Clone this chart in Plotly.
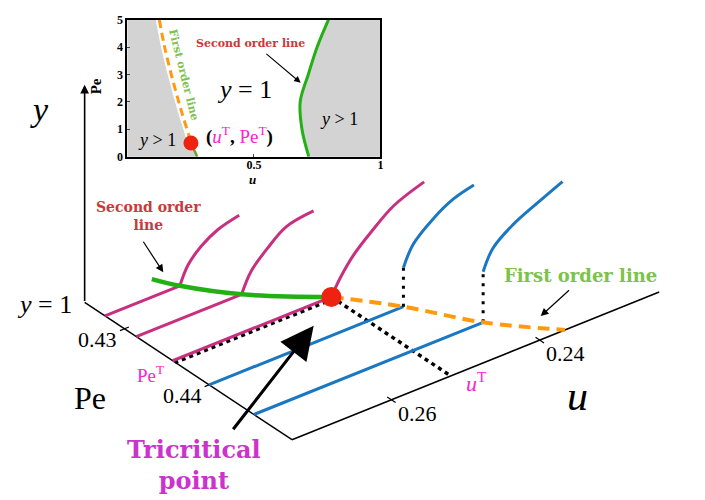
import numpy as np
import plotly.graph_objects as go

# ---- main schematic (Pe, u, y) ----
pe_lo, pe_hi = 0.4253, 0.4498
u_hi, u_lo = 0.2734, 0.2239
pe_ticks = [0.43, 0.44]
pe_tick_text = ["0.43", "0.44"]
u_ticks = [0.26, 0.24]
u_tick_text = ["0.26", "0.24"]
pe_T = 0.4357
u_T = 0.2520

# second order cuts (magenta)
so_pe = [0.4277, 0.4314, 0.4357]
so_uc = [0.2633, 0.2592, 0.2520]
so_curve_u = [[0.2633, 0.2622, 0.2604, 0.2582, 0.2553],
              [0.2592, 0.2579, 0.2558, 0.2532, 0.2495],
              [0.2520, 0.2508, 0.2490, 0.2467, 0.2436, 0.2395]]
so_curve_y = [[1.00, 1.09, 1.16, 1.21, 1.24],
              [1.00, 1.10, 1.18, 1.255, 1.28],
              [1.00, 1.08, 1.17, 1.25, 1.34, 1.40]]

# first order cuts (blue)
fo_pe = [0.4400, 0.4453]
fo_uc = [0.2472, 0.2425]
fo_jump = [1.20, 1.26]
fo_curve_u = [[0.2472, 0.2459, 0.2432, 0.2405, 0.2377],
              [0.2425, 0.2412, 0.2385, 0.2353, 0.2318]]
fo_curve_y = [[1.20, 1.30, 1.39, 1.45, 1.48],
              [1.26, 1.36, 1.44, 1.50, 1.56]]

# transition lines in the y=1 plane
sol_pe = [0.4257, 0.4277, 0.4314, 0.4357]
sol_u = [0.2648, 0.2633, 0.2592, 0.2520]
fol_pe = [0.4357, 0.4400, 0.4453, 0.4498]
fol_u = [0.2520, 0.2472, 0.2425, 0.2366]

# ---- inset phase diagram ----
in_fo_u = [0.126, 0.146, 0.177, 0.213, 0.244, 0.251]
in_fo_pe = [5.0, 4.04, 2.87, 1.67, 0.74, 0.50]
in_tail_u = [0.251, 0.276]
in_tail_pe = [0.50, 0.0]
in_so_u = [0.795, 0.750, 0.715, 0.683, 0.690, 0.717]
in_so_pe = [5, 4, 3, 2, 1, 0]
in_tc_u, in_tc_pe = 0.251, 0.50

MAGENTA = "#c8307f"
BLUE = "#1a78c2"
GREEN = "#22b014"
ORANGE = "#ff9a10"
RED = "#ee2211"
MATH = "Liberation Serif"
BOLD = "DejaVu Serif"

# oblique projection to page pixels
X0, Y0 = 85, 304
SPE_X, SPE_Y = 8500, 5763
SU_X, SU_Y = 7450, 3069
SY = 200


def proj(pe, u, y=1.0):
    pe = np.asarray(pe, float)
    u = np.asarray(u, float)
    y = np.asarray(y, float)
    px = X0 + (pe - pe_lo) * SPE_X + (u_hi - u) * SU_X
    py = Y0 + (pe - pe_lo) * SPE_Y - (u_hi - u) * SU_Y - (y - 1.0) * SY
    return px, py


fig = go.Figure()


def line(pe, u, y, color, width, dash="solid", shape="linear"):
    px, py = proj(pe, u, y)
    fig.add_trace(go.Scatter(x=px, y=py, mode="lines", showlegend=False,
                             line=dict(color=color, width=width, dash=dash, shape=shape),
                             hoverinfo="skip"))


# axes
line([pe_lo, pe_hi], [u_hi, u_hi], [1, 1], "black", 1.5)
line([pe_hi, pe_hi], [u_hi, u_lo], [1, 1], "black", 1.5)
for p in pe_ticks:
    line([p, p], [u_hi + 0.0006, u_hi - 0.0006], [1, 1], "black", 1.2)
for q in u_ticks:
    line([pe_hi - 0.0005, pe_hi + 0.0005], [q, q], [1, 1], "black", 1.2)

# dotted guides from tricritical point
line([pe_T + 0.0003, pe_T + 0.0003], [u_T, u_hi], [1, 1], "black", 3.5, dash="4px,4px")
line([pe_T, pe_hi], [u_T, u_T], [1, 1], "black", 3.5, dash="4px,4px")

# magenta cuts
for p, uc, cu, cy in zip(so_pe, so_uc, so_curve_u, so_curve_y):
    line([p, p], [u_hi, uc], [1, 1], MAGENTA, 3)
    line([p] * len(cu), cu, cy, MAGENTA, 3, shape="spline")

# blue cuts
for p, uc, jy, cu, cy in zip(fo_pe, fo_uc, fo_jump, fo_curve_u, fo_curve_y):
    line([p, p], [u_hi, uc], [1, 1], BLUE, 3)
    line([p, p], [uc, uc], [1, jy], "black", 3, dash="3px,6px")
    line([p] * len(cu), cu, cy, BLUE, 3, shape="spline")

# transition lines
line(sol_pe, sol_u, [1] * len(sol_pe), GREEN, 4.5, shape="spline")
line(fol_pe, fol_u, [1] * len(fol_pe), ORANGE, 4, dash="12px,7px", shape="spline")

tx, ty = proj(pe_T, u_T)
fig.add_trace(go.Scatter(x=[float(tx)], y=[float(ty)], mode="markers", showlegend=False,
                         marker=dict(color=RED, size=20), hoverinfo="skip"))

# inset traces
left_x = [-0.2, -0.2, in_fo_u[0]] + in_fo_u + in_tail_u[1:] + [in_tail_u[-1]]
left_y = [-1, 6, 6] + in_fo_pe + in_tail_pe[1:] + [-1]
fig.add_trace(go.Scatter(x=left_x, y=left_y, fill="toself", fillcolor="#d3d3d3",
                         line=dict(width=0), mode="lines",
                         xaxis="x2", yaxis="y2", showlegend=False, hoverinfo="skip"))
right_x = [1.2, 1.2, in_so_u[0]] + in_so_u + [in_so_u[-1]]
right_y = [-1, 6, 6] + in_so_pe + [-1]
fig.add_trace(go.Scatter(x=right_x, y=right_y, fill="toself", fillcolor="#d3d3d3",
                         line=dict(width=0, shape="spline"), mode="lines",
                         xaxis="x2", yaxis="y2", showlegend=False, hoverinfo="skip"))
fig.add_trace(go.Scatter(x=in_fo_u, y=in_fo_pe, mode="lines", line=dict(color="white", width=7, shape="spline"),
                         xaxis="x2", yaxis="y2", showlegend=False, hoverinfo="skip"))
fig.add_trace(go.Scatter(x=in_fo_u, y=in_fo_pe, mode="lines",
                         line=dict(color=ORANGE, width=3, dash="8px,5px", shape="spline"),
                         xaxis="x2", yaxis="y2", showlegend=False, hoverinfo="skip"))
fig.add_trace(go.Scatter(x=in_tail_u, y=in_tail_pe, mode="lines", line=dict(color="#6aa22a", width=2.5),
                         xaxis="x2", yaxis="y2", showlegend=False, hoverinfo="skip"))
fig.add_trace(go.Scatter(x=in_so_u, y=in_so_pe, mode="lines", line=dict(color=GREEN, width=3, shape="spline"),
                         xaxis="x2", yaxis="y2", showlegend=False, hoverinfo="skip"))
fig.add_trace(go.Scatter(x=[in_tc_u], y=[in_tc_pe], mode="markers", marker=dict(color=RED, size=15),
                         xaxis="x2", yaxis="y2", showlegend=False, hoverinfo="skip"))

ann = []


def text(x, y, s, size, color="black", family=MATH, ref="", **kw):
    ann.append(dict(x=x, y=y, text=s, showarrow=False, xref="x" + ref, yref="y" + ref,
                    font=dict(size=size, color=color, family=family), **kw))


def arrow(x, y, ax, ay, width=1.2, size=1.0, head=2):
    ann.append(dict(x=x, y=y, ax=ax, ay=ay, xref="x", yref="y", axref="x", ayref="y",
                    text="", showarrow=True, arrowhead=head, arrowsize=size,
                    arrowwidth=width, arrowcolor="black"))


# tick labels on the oblique axes
for p, s in zip(pe_ticks, pe_tick_text):
    px, py = proj(p, u_hi)
    text(float(px) - 27, float(py) + 11, s, 22)
px, py = proj(pe_T, u_hi)
text(float(px) - 22, float(py) + 14, "Pe<sup>T</sup>", 19, "#ff22cc")
for q, s in zip(u_ticks, u_tick_text):
    px, py = proj(pe_hi, q)
    text(float(px) + 26, float(py) + 14, s, 22)
px, py = proj(pe_hi, u_T)
text(float(px) + 26, float(py) + 6, "<i>u</i><sup>T</sup>", 22, "#ff22cc")

text(40, 105, "<i>y</i>", 34)
text(45, 306, "<i>y</i> = 1", 26)
text(90, 402, "Pe", 32)
text(580, 400, "<i>u</i>", 42)

# vertical axis with arrow
vx, vy = proj(pe_lo, u_hi, 1.0)
arrow(float(vx), 80, float(vx), float(vy), width=1.6, size=1.1)

text(149, 215, "<b>Second order<br>line</b>", 14, "#c83a3a", BOLD)
arrow(164, 273, 143, 240, width=1.2, size=1.3)
text(583, 276, "<b>First order line</b>", 18, "#7dc24a", BOLD)
arrow(543, 318, 573, 290, width=1.2, size=1.3)
text(195, 471, "<b>Tricritical<br>point</b>", 24, "#cc33cc", BOLD)
arrow(315, 328, 233, 436, width=3, size=2.2)

# inset annotations (page pixels)
text(252, 38, "<b>Second order line</b>", 11, "#d03535", BOLD)
arrow(302, 78, 266, 47, width=1.1, size=1.2)
text(185, 70, "<b>First order line</b>", 11, "#7dc24a", BOLD, textangle=76)
text(246, 85, "<i>y</i> = 1", 26)
text(158, 137, "<i>y</i> > 1", 18)
text(340, 115, "<i>y</i> > 1", 18)
text(241, 132, "<b>(</b><span style='color:#ff22cc'><i>u</i><sup>T</sup></span><b>, </b>"
     "<span style='color:#ff22cc'>Pe<sup>T</sup></span><b>)</b>", 19)
text(96, 82, "<b>Pe</b>", 15, textangle=-90)
text(254, 177, "<b><i>u</i></b>", 13)

fig.update_layout(
    width=705, height=500, margin=dict(l=0, r=0, t=0, b=0),
    paper_bgcolor="white", plot_bgcolor="white",
    xaxis=dict(range=[0, 705], visible=False, domain=[0, 1]),
    yaxis=dict(range=[500, 0], visible=False, domain=[0, 1]),
    xaxis2=dict(domain=[128 / 705, 382 / 705], anchor="y2", range=[0, 1],
                tickvals=[0.5, 1], ticktext=["<b>0.5</b>", "<b>1</b>"],
                ticks="inside", ticklen=3, showgrid=False, zeroline=False,
                showline=True, mirror=True, linecolor="black", linewidth=2,
                ticklabelstandoff=-4,
                tickfont=dict(family=MATH, size=12, color="black")),
    yaxis2=dict(domain=[1 - 154 / 500, 1 - 13 / 500], anchor="x2", range=[0, 5],
                tickvals=[0, 1, 2, 3, 4, 5], ticktext=["<b>%d</b>" % v for v in range(6)],
                ticks="inside", ticklen=3, showgrid=False, zeroline=False,
                showline=True, mirror=True, linecolor="black", linewidth=2,
                tickfont=dict(family=MATH, size=12, color="black")),
    annotations=ann,
)

fig.write_html("out.html", config={"displayModeBar": False},
               post_script="document.body.style.margin='0px';")
